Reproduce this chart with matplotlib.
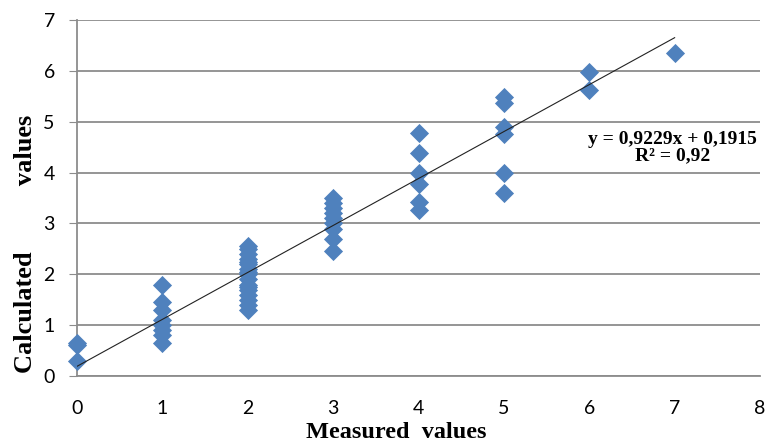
import numpy as np
import matplotlib
matplotlib.use("Agg")
import matplotlib.pyplot as plt

# measured vs calculated values
x_vals = ([0] * 3 + [1] * 8 + [2] * 17 + [3] * 9 + [4] * 6 + [5] * 6 + [6] * 2 + [7])
y_vals = [0.30, 0.62, 0.65,
          1.80, 1.45, 1.30, 1.10, 1.00, 0.90, 0.80, 0.65,
          1.30, 1.40, 1.50, 1.60, 1.70, 1.75, 1.80, 1.90, 2.00, 2.05, 2.10, 2.20, 2.25, 2.30, 2.40, 2.50, 2.55,
          2.45, 2.70, 2.90, 3.00, 3.10, 3.20, 3.30, 3.40, 3.50,
          4.78, 4.38, 4.00, 3.77, 3.42, 3.27,
          5.48, 5.37, 4.90, 4.75, 3.99, 3.60,
          5.98, 5.62,
          6.35]
slope, intercept = 0.9229, 0.1915
eq_text = "y = 0,9229x + 0,1915\nR² = 0,92"

fig = plt.figure(figsize=(7.67, 4.44), dpi=100)
ax = fig.add_axes([0.1004, 0.153, 0.8905, 0.802])

ax.scatter(x_vals, y_vals, marker="D", s=95, color="#4F81BD", zorder=3,
           linewidths=0, clip_on=False)
xl = np.array([0, 7])
ax.plot(xl, slope * xl + intercept, color="#222222", lw=0.8, zorder=4)

ax.set_xlim(0, 8)
ax.set_ylim(0, 7)
ax.set_xticks(range(0, 9))
ax.set_yticks(range(0, 8))
ax.yaxis.grid(True, color="#8c8c8c", lw=1.3)
ax.set_axisbelow(True)
for s in ["top", "right"]:
    ax.spines[s].set_visible(False)
for s in ["left", "bottom"]:
    ax.spines[s].set_color("#8c8c8c")
    ax.spines[s].set_linewidth(1.3)
ax.tick_params(axis="y", length=6, color="#8c8c8c", labelsize=14, pad=10)
ax.tick_params(axis="x", length=0, labelsize=14, pad=17)
for lab in ax.get_xticklabels() + ax.get_yticklabels():
    lab.set_family("Lato")

ax.text(6.98, 4.49, eq_text, ha="center", va="center", fontsize=14,
        fontweight="bold", family="Liberation Serif", linespacing=0.95)

fig.text(396 / 767, 0.025, "Measured  values", ha="center", va="center", fontsize=17.5,
         fontweight="bold", family="Liberation Serif")
fig.text(26 / 767, 1 - 244 / 444, "Calculated          values", ha="center", va="center",
         rotation=90, fontsize=19, fontweight="bold", family="Liberation Serif")

fig.savefig("out.png", dpi=100)
